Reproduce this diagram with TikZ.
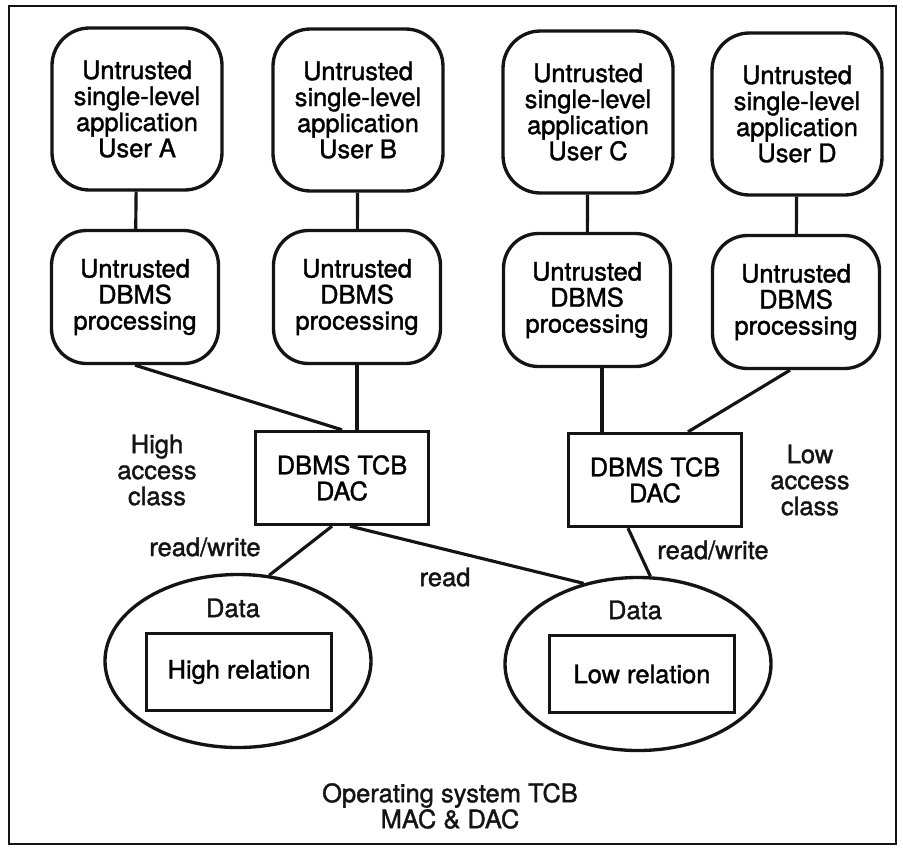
\documentclass[tikz,border=0pt]{standalone}
\usepackage{fontspec}
\setmainfont{TeX Gyre Heros}
\newfontfamily\heavyfont[FakeBold=1.4]{TeX Gyre Heros}
\usepackage{xcolor}
\usepackage{tikz}
\usetikzlibrary{calc,shapes.geometric}
\definecolor{inkBlack}{HTML}{141414}
\newcommand{\diagfont}{\heavyfont\fontsize{14.5pt}{14.8pt}\selectfont}
\tikzset{
  appbox/.style={rectangle, rounded corners=0.75cm, draw=inkBlack, line width=1.9pt, align=center, font=\diagfont, minimum width=3.4cm, minimum height=3.24cm, inner sep=2pt},
  procbox/.style={rectangle, rounded corners=0.7cm, draw=inkBlack, line width=1.9pt, align=center, font=\diagfont, minimum width=3.34cm, minimum height=2.66cm, inner sep=2pt},
  tcbbox/.style={rectangle, draw=inkBlack, line width=1.9pt, align=center, font=\diagfont, minimum width=3.46cm, minimum height=1.86cm, inner sep=2pt},
  databox/.style={ellipse, draw=inkBlack, line width=1.9pt, minimum width=5.32cm, minimum height=3.46cm, inner sep=0pt},
  relbox/.style={rectangle, draw=inkBlack, line width=1.9pt, align=center, font=\diagfont, minimum width=3.7cm, minimum height=1.54cm, inner sep=2pt},
  plainlabel/.style={font=\diagfont, text=inkBlack, align=center, inner sep=0pt},
  link/.style={draw=inkBlack, line width=1.8pt},
}

\begin{document}
\begin{tikzpicture}[x=1cm,y=1cm]
  \useasboundingbox[fill=white] (0,0) rectangle (18.06,-16.96);
  % Outer frame
  \node[draw=inkBlack, line width=1.6pt, minimum width=17.74cm, minimum height=16.76cm, inner sep=0pt] (frame) at (9.05,-8.5) {};

  % Applications
  \node[appbox] (appA) at (2.74,-2.18) {Untrusted\\single-level\\application\\User A};
  \node[appbox] (appB) at (7.16,-2.20) {Untrusted\\single-level\\application\\User B};
  \node[appbox] (appC) at (11.76,-2.24) {Untrusted\\single-level\\application\\User C};
  \node[appbox] (appD) at (15.94,-2.28) {Untrusted\\single-level\\application\\User D};

  % Untrusted DBMS processing
  \node[procbox] (procA) at (2.70,-5.94) {Untrusted\\DBMS\\processing};
  \node[procbox] (procB) at (7.14,-5.94) {Untrusted\\DBMS\\processing};
  \node[procbox] (procC) at (11.74,-6.00) {Untrusted\\DBMS\\processing};
  \node[procbox] (procD) at (15.92,-6.04) {Untrusted\\DBMS\\processing};

  % DBMS TCB
  \node[tcbbox] (tcbHigh) at (6.84,-9.56) {DBMS TCB\\DAC};
  \node[tcbbox] (tcbLow) at (13.10,-9.60) {DBMS TCB\\DAC};

  % Data
  \node[databox] (dataHigh) at (4.76,-13.22) {};
  \node[databox] (dataLow) at (12.76,-13.28) {};
  \node[plainlabel] (dataHighLbl) at (4.66,-12.16) {Data};
  \node[plainlabel] (dataLowLbl) at (12.70,-12.20) {Data};
  \node[relbox] (relHigh) at (4.78,-13.44) {High relation};
  \node[relbox] (relLow) at (12.84,-13.48) {Low relation};

  % Labels
  \node[plainlabel] (highClass) at (3.14,-9.40) {High\\access\\class};
  \node[plainlabel] (lowClass) at (16.20,-9.60) {Low\\access\\class};
  \node[plainlabel] (rwHigh) at (4.10,-10.94) {read/write};
  \node[plainlabel] (rwLow) at (14.26,-11.00) {read/write};
  \node[plainlabel] (readLbl) at (8.90,-11.54) {read};
  \node[plainlabel] (osTcb) at (9.00,-16.12) {Operating system TCB\\MAC \& DAC};

  % Links
  \draw[link] (appA) -- (procA);
  \draw[link] (appB) -- (procB);
  \draw[link] (appC) -- (procC);
  \draw[link] (appD) -- (procD);
  \draw[link] (procA.south) -- (tcbHigh.north);
  \draw[link] (procB.south) -- (procB.south |- tcbHigh.north);
  \draw[link] ([xshift=0.3cm]procC.south) -- ([xshift=0.3cm]procC.south |- tcbLow.north);
  \draw[link] ([xshift=-0.12cm]procD.south) -- ([xshift=0.66cm]tcbLow.north);
  \draw[link] ([xshift=-0.2cm]tcbHigh.south) -- (dataHigh.70);
  \draw[link] ([xshift=0.16cm]tcbHigh.south) -- (dataLow.124);
  \draw[link] ([xshift=-0.54cm]tcbLow.south) -- (dataLow.82);
\end{tikzpicture}
\end{document}
